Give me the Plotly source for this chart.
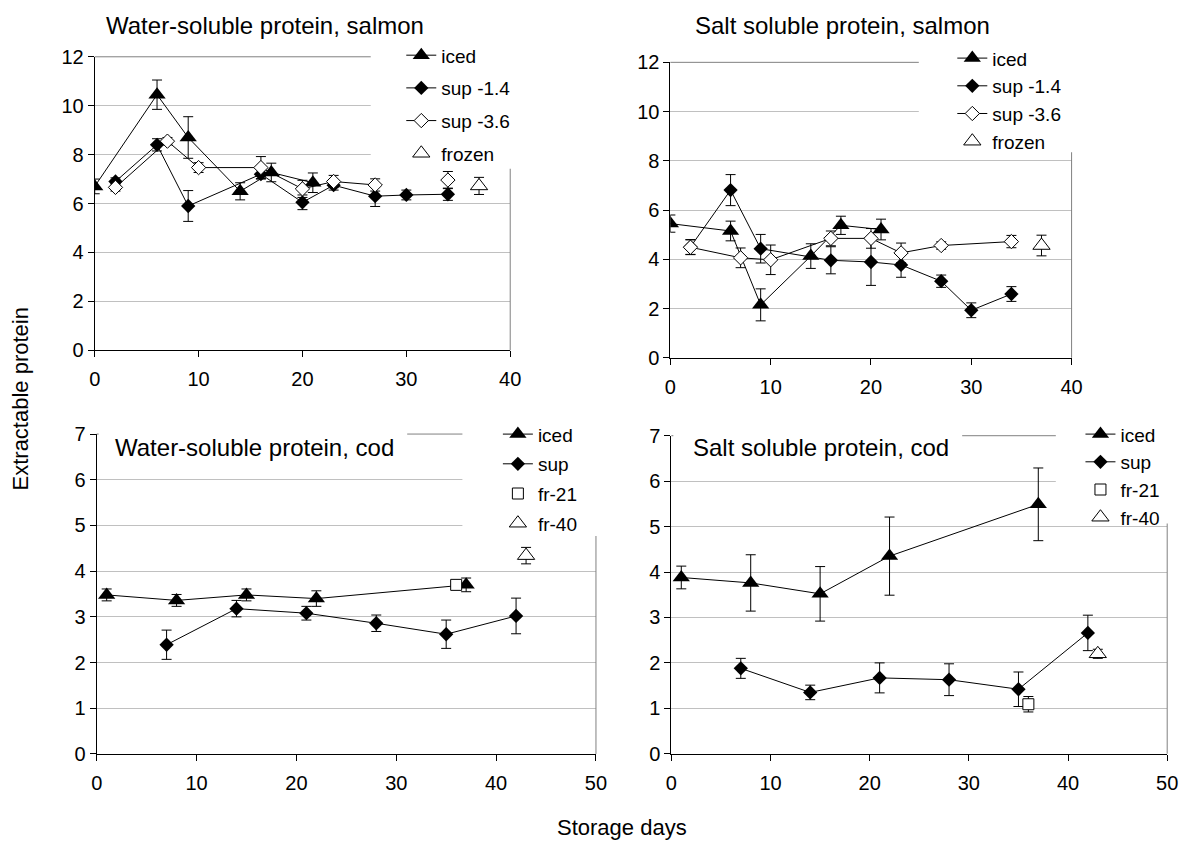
import plotly.graph_objects as go

W, H = 1192, 850
FONT = "Liberation Sans, Arial, sans-serif"

# ---------------- Water-soluble protein, salmon ----------------
ws_salmon_iced_days = [0, 6, 9, 14, 17, 21]
ws_salmon_iced = [6.7, 10.45, 8.7, 6.5, 7.27, 6.85]
ws_salmon_iced_sd = [0.3, 0.6, 0.85, 0.35, 0.38, 0.4]

ws_salmon_sup14_days = [2, 6, 9, 16, 20, 23, 27, 30, 34]
ws_salmon_sup14 = [6.9, 8.4, 5.9, 7.2, 6.05, 6.75, 6.3, 6.35, 6.38]
ws_salmon_sup14_sd = [0.15, 0.25, 0.63, 0.2, 0.3, 0.2, 0.42, 0.2, 0.25]

ws_salmon_sup36_days = [2, 7, 10, 16, 20, 23, 27, 30, 34]
ws_salmon_sup36 = [6.66, 8.55, 7.47, 7.47, 6.6, 6.9, 6.76, None, 6.96]
ws_salmon_sup36_sd = [0.15, 0.15, 0.2, 0.45, 0.35, 0.25, 0.25, None, 0.35]

ws_salmon_frozen_days = [37]
ws_salmon_frozen = [6.72]
ws_salmon_frozen_sd = [0.35]

# ---------------- Salt soluble protein, salmon ----------------
ss_salmon_iced_days = [0, 6, 9, 14, 17, 21]
ss_salmon_iced = [5.45, 5.15, 2.15, 4.13, 5.38, 5.21]
ss_salmon_iced_sd = [0.35, 0.4, 0.65, 0.5, 0.37, 0.42]

ss_salmon_sup14_days = [2, 6, 9, 16, 20, 23, 27, 30, 34]
ss_salmon_sup14 = [4.5, 6.81, 4.43, 3.96, 3.89, 3.77, 3.11, 1.93, 2.59]
ss_salmon_sup14_sd = [0.3, 0.63, 0.58, 0.55, 0.95, 0.5, 0.25, 0.3, 0.3]

ss_salmon_sup36_days = [2, 7, 10, 16, 20, 23, 27, 34]
ss_salmon_sup36 = [4.49, 4.06, 3.98, 4.85, 4.85, 4.26, 4.56, 4.72]
ss_salmon_sup36_sd = [0.3, 0.4, 0.6, 0.3, 0.4, 0.4, 0.15, 0.25]

ss_salmon_frozen_days = [37]
ss_salmon_frozen = [4.56]
ss_salmon_frozen_sd = [0.42]

# ---------------- Water-soluble protein, cod ----------------
ws_cod_iced_days = [1, 8, 15, 22, 37]
ws_cod_iced = [3.48, 3.36, 3.48, 3.40, 3.70]
ws_cod_iced_sd = [0.13, 0.13, 0.13, 0.17, 0.15]

ws_cod_sup_days = [7, 14, 21, 28, 35, 42]
ws_cod_sup = [2.39, 3.18, 3.08, 2.86, 2.62, 3.02]
ws_cod_sup_sd = [0.32, 0.18, 0.15, 0.18, 0.31, 0.39]

ws_cod_fr21_days = [36]
ws_cod_fr21 = [3.70]
ws_cod_fr21_sd = [0.0]

ws_cod_fr40_days = [43]
ws_cod_fr40 = [4.34]
ws_cod_fr40_sd = [0.18]

# ---------------- Salt soluble protein, cod ----------------
ss_cod_iced_days = [1, 8, 15, 22, 37]
ss_cod_iced = [3.88, 3.76, 3.52, 4.35, 5.49]
ss_cod_iced_sd = [0.25, 0.62, 0.6, 0.86, 0.8]

ss_cod_sup_days = [7, 14, 21, 28, 35, 42]
ss_cod_sup = [1.88, 1.35, 1.67, 1.63, 1.42, 2.66]
ss_cod_sup_sd = [0.22, 0.16, 0.33, 0.35, 0.38, 0.39]

ss_cod_fr21_days = [36]
ss_cod_fr21 = [1.09]
ss_cod_fr21_sd = [0.17]

ss_cod_fr40_days = [43]
ss_cod_fr40 = [2.2]
ss_cod_fr40_sd = [0.1]

panel_titles = [
    "Water-soluble protein, salmon",
    "Salt soluble protein, salmon",
    "Water-soluble protein, cod",
    "Salt soluble protein, cod",
]


def fx(px):
    return px / W


def fy(py):
    return 1 - py / H


# plot-area boxes in pixels: left, top, right, bottom
panels = [
    dict(box=(90, 47, 511.5, 348.3), xmax=40, ymax=12, ydt=2),
    dict(box=(674, 52.7, 1081, 356), xmax=40, ymax=12, ydt=2),
    dict(box=(92, 434.3, 598.5, 762.7), xmax=50, ymax=7, ydt=1),
    dict(box=(675, 436, 1178, 762.5), xmax=50, ymax=7, ydt=1),
]

LINE = dict(color="black", width=1)
OUTLINE = dict(color="black", width=1)
STYLES = {
    "iced": dict(mode="lines+markers", line=LINE,
                 marker=dict(symbol="triangle-up", size=15, color="black")),
    "sup": dict(mode="lines+markers", line=LINE,
                marker=dict(symbol="diamond", size=11, color="black")),
    "sup_open": dict(mode="lines+markers", line=LINE,
                     marker=dict(symbol="diamond", size=11, color="white", line=OUTLINE)),
    "tri_open": dict(mode="markers",
                     marker=dict(symbol="triangle-up", size=15, color="white", line=OUTLINE)),
    "square_open": dict(mode="markers",
                        marker=dict(symbol="square", size=11, color="white", line=OUTLINE)),
}

fig = go.Figure()


def add_series(panel, name, style, days, vals, sd):
    n = panel + 1
    suffix = "" if n == 1 else str(n)
    fig.add_trace(go.Scatter(
        x=days, y=vals, name=name,
        xaxis="x" + suffix, yaxis="y" + suffix,
        legend="legend" + suffix, legendgroup=f"p{n}-{name}",
        connectgaps=False,
        error_y=dict(type="data", array=sd, color="black", thickness=1, width=5),
        **STYLES[style],
    ))


add_series(0, "iced", "iced", ws_salmon_iced_days, ws_salmon_iced, ws_salmon_iced_sd)
add_series(0, "sup -1.4", "sup", ws_salmon_sup14_days, ws_salmon_sup14, ws_salmon_sup14_sd)
add_series(0, "sup -3.6", "sup_open", ws_salmon_sup36_days, ws_salmon_sup36, ws_salmon_sup36_sd)
add_series(0, "frozen", "tri_open", ws_salmon_frozen_days, ws_salmon_frozen, ws_salmon_frozen_sd)

add_series(1, "iced", "iced", ss_salmon_iced_days, ss_salmon_iced, ss_salmon_iced_sd)
add_series(1, "sup -1.4", "sup", ss_salmon_sup14_days, ss_salmon_sup14, ss_salmon_sup14_sd)
add_series(1, "sup -3.6", "sup_open", ss_salmon_sup36_days, ss_salmon_sup36, ss_salmon_sup36_sd)
add_series(1, "frozen", "tri_open", ss_salmon_frozen_days, ss_salmon_frozen, ss_salmon_frozen_sd)

add_series(2, "iced", "iced", ws_cod_iced_days, ws_cod_iced, ws_cod_iced_sd)
add_series(2, "sup", "sup", ws_cod_sup_days, ws_cod_sup, ws_cod_sup_sd)
add_series(2, "fr-21", "square_open", ws_cod_fr21_days, ws_cod_fr21, ws_cod_fr21_sd)
add_series(2, "fr-40", "tri_open", ws_cod_fr40_days, ws_cod_fr40, ws_cod_fr40_sd)

add_series(3, "iced", "iced", ss_cod_iced_days, ss_cod_iced, ss_cod_iced_sd)
add_series(3, "sup", "sup", ss_cod_sup_days, ss_cod_sup, ss_cod_sup_sd)
add_series(3, "fr-21", "square_open", ss_cod_fr21_days, ss_cod_fr21, ss_cod_fr21_sd)
add_series(3, "fr-40", "tri_open", ss_cod_fr40_days, ss_cod_fr40, ss_cod_fr40_sd)

layout = dict(
    width=W, height=H,
    margin=dict(l=0, r=0, t=0, b=0),
    paper_bgcolor="white", plot_bgcolor="white",
    font=dict(family=FONT, size=20, color="black"),
    showlegend=True,
)

axis_common = dict(
    showline=True, linecolor="black", linewidth=1,
    ticks="outside", ticklen=6, tickcolor="black", tickwidth=1,
    zeroline=False, tickfont=dict(family=FONT, size=20, color="black"),
    fixedrange=True,
)

for i, p in enumerate(panels):
    n = i + 1
    suffix = "" if n == 1 else str(n)
    x0, y0, x1, y1 = p["box"]
    layout["xaxis" + suffix] = dict(
        axis_common, domain=[fx(x0), fx(x1)], anchor="y" + suffix,
        range=[0, p["xmax"]], tick0=0, dtick=10, showgrid=False,
        ticklabelstandoff=5,
    )
    layout["yaxis" + suffix] = dict(
        axis_common, domain=[fy(y1), fy(y0)], anchor="x" + suffix,
        range=[0, p["ymax"]], tick0=0, dtick=p["ydt"],
        showgrid=True, gridcolor="#c0c0c0", gridwidth=1,
    )

# legend placement (left, top in pixels) and extra row spacing
legend_spots = [(401, 26, 5), (960, 29, 0), (499, 415, 2), (1090, 415, 0)]
for i, (lx, ly, gap) in enumerate(legend_spots):
    n = i + 1
    key = "legend" if n == 1 else f"legend{n}"
    layout[key] = dict(
        x=fx(lx), y=fy(ly), xanchor="left", yanchor="top",
        bgcolor="rgba(0,0,0,0)", borderwidth=0,
        font=dict(family=FONT, size=19, color="black"),
        tracegroupgap=gap, itemclick=False, itemdoubleclick=False,
    )

fig.update_layout(**layout)

# plot-area frame (top and right edges in grey)
shapes = []
for p in panels:
    x0, y0, x1, y1 = p["box"]
    shapes.append(dict(type="line", xref="paper", yref="paper",
                       x0=fx(x0), x1=fx(x1), y0=fy(y0), y1=fy(y0),
                       line=dict(color="#808080", width=1), layer="above"))
    shapes.append(dict(type="line", xref="paper", yref="paper",
                       x0=fx(x1), x1=fx(x1), y0=fy(y0), y1=fy(y1),
                       line=dict(color="#808080", width=1), layer="above"))

# white boxes behind the legends and the inner titles
white_boxes = [
    (370, 30, 530, 162),
    (926, 35, 1095, 145),
    (94, 422, 407, 470),
    (463, 422, 610, 539),
    (677, 422, 970, 470),
    (1065, 422, 1190, 526),
]
for (a, b, c, d) in white_boxes:
    shapes.append(dict(type="rect", xref="paper", yref="paper",
                       x0=fx(a), x1=fx(c), y0=fy(d), y1=fy(b),
                       line=dict(width=0), fillcolor="white", layer="above"))
fig.update_layout(shapes=shapes)

title_spots = [(99, 15), (697, 15), (109, 448), (695, 448)]
annotations = []
for text, (tx, ty) in zip(panel_titles, title_spots):
    annotations.append(dict(text=text, x=fx(tx), y=fy(ty), xref="paper", yref="paper",
                            xanchor="left", yanchor="middle", showarrow=False,
                            font=dict(family=FONT, size=24, color="black")))
annotations.append(dict(text="Extractable protein", x=fx(15), y=fy(398),
                        xref="paper", yref="paper", textangle=-90,
                        xanchor="center", yanchor="middle", showarrow=False,
                        font=dict(family=FONT, size=22, color="black")))
annotations.append(dict(text="Storage days", x=fx(625), y=fy(838),
                        xref="paper", yref="paper",
                        xanchor="center", yanchor="middle", showarrow=False,
                        font=dict(family=FONT, size=22, color="black")))
fig.update_layout(annotations=annotations)

fig.write_html("out.html")
